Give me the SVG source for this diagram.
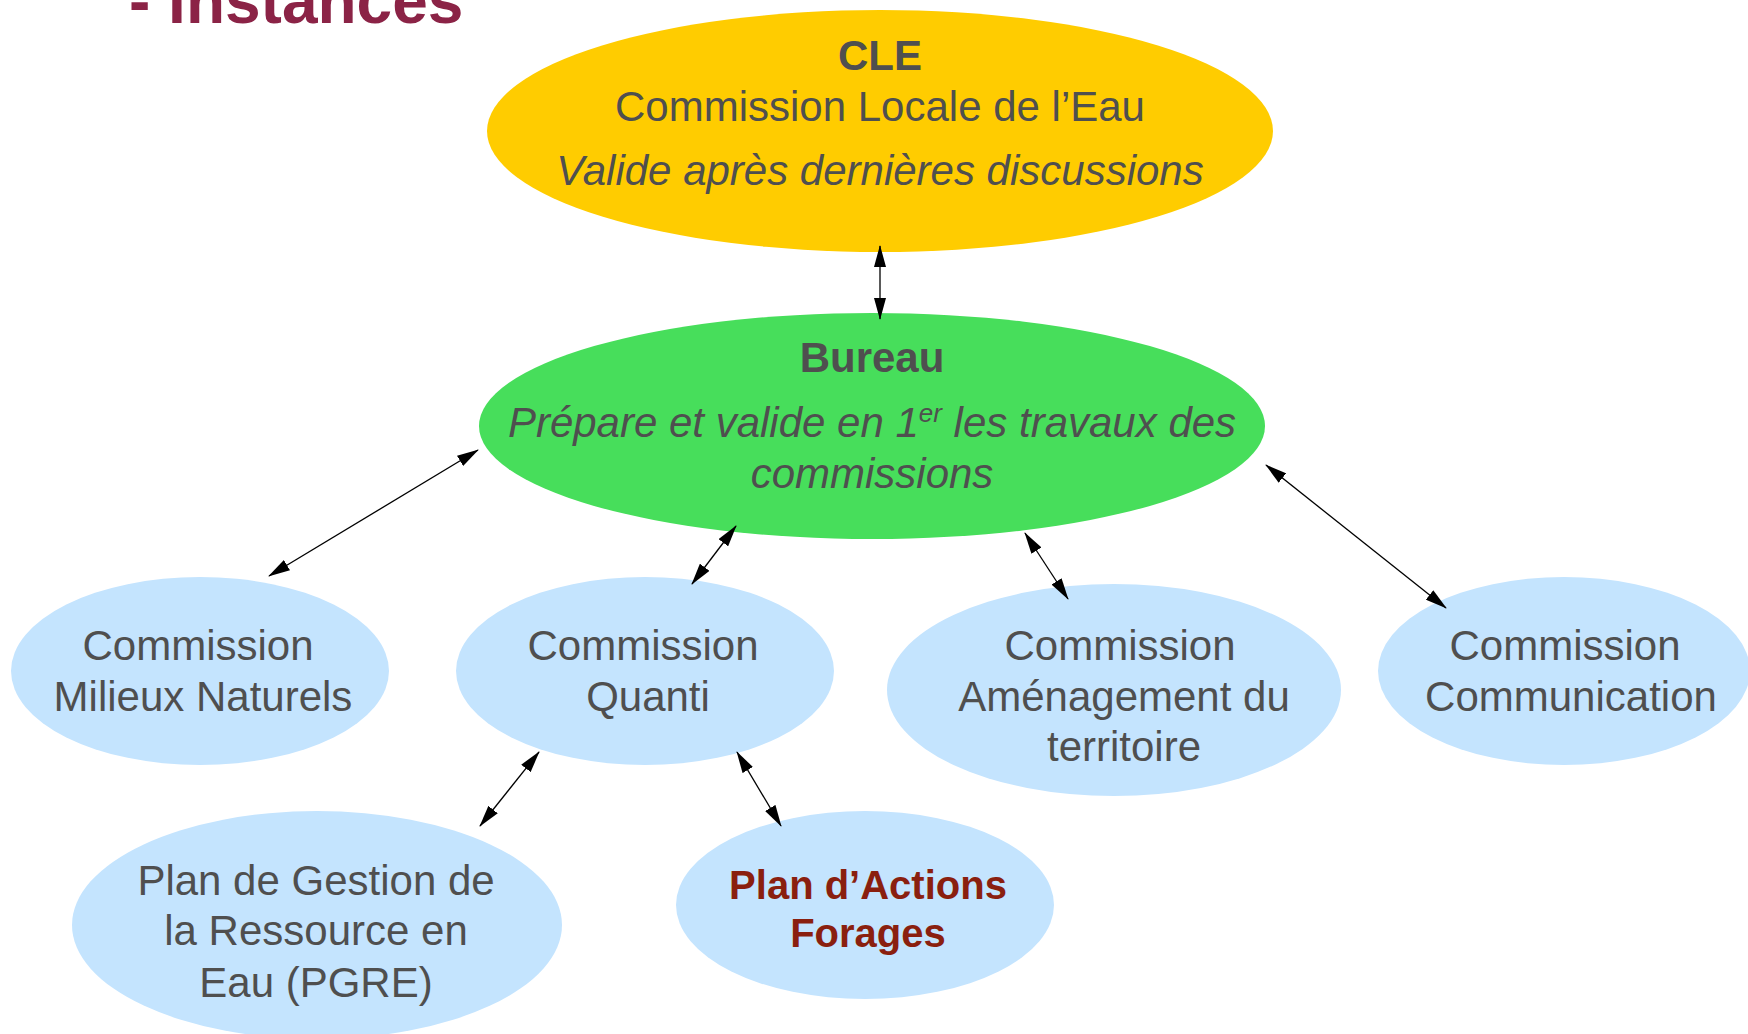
<svg xmlns="http://www.w3.org/2000/svg" width="1748" height="1034" viewBox="0 0 1748 1034">
<style>
text{font-family:"Liberation Sans",Arial,sans-serif;font-size:42px;fill:#4f4f4f;text-anchor:middle}
.b{font-weight:bold}
.i{font-style:italic}
.blue{fill:#c4e4fe}
.con line{stroke:#000;stroke-width:1.3;marker-start:url(#ah);marker-end:url(#ah)}
</style>
<defs>
<marker id="ah" markerUnits="userSpaceOnUse" markerWidth="22" markerHeight="12" refX="21" refY="6" orient="auto-start-reverse" viewBox="0 0 22 12">
<path d="M0,0 L22,6 L0,12 z" fill="#000"/>
</marker>
</defs>
<rect width="1748" height="1034" fill="#fff"/>
<text x="129" y="23" class="b" style="font-size:64px;fill:#8b2346;text-anchor:start">- Instances</text>

<g id="cle">
<ellipse cx="880" cy="131" rx="393" ry="121" fill="#ffcc00"/>
<text x="880" y="70" class="b">CLE</text>
<text x="880" y="121">Commission Locale de l’Eau</text>
<text x="880" y="185" class="i">Valide après dernières discussions</text>
</g>

<g id="bureau">
<ellipse cx="872" cy="426" rx="393" ry="113" fill="#47de5b"/>
<text x="872" y="372" class="b">Bureau</text>
<text x="872" y="437" class="i">Prépare et valide en 1<tspan font-size="26" dy="-15">er</tspan><tspan dy="15"> les travaux des</tspan></text>
<text x="872" y="488" class="i">commissions</text>
</g>

<g id="milieux">
<ellipse cx="200" cy="671" rx="189" ry="94" class="blue"/>
<text x="198" y="660">Commission</text>
<text x="203" y="711">Milieux Naturels</text>
</g>

<g id="quanti">
<ellipse cx="645" cy="671" rx="189" ry="94" class="blue"/>
<text x="643" y="660">Commission</text>
<text x="648" y="711">Quanti</text>
</g>

<g id="amenagement">
<ellipse cx="1114" cy="690" rx="227" ry="106" class="blue"/>
<text x="1120" y="660">Commission</text>
<text x="1124" y="711">Aménagement du</text>
<text x="1124" y="761">territoire</text>
</g>

<g id="communication">
<ellipse cx="1564" cy="671" rx="186" ry="94" class="blue"/>
<text x="1565" y="660">Commission</text>
<text x="1571" y="711">Communication</text>
</g>

<g id="pgre">
<ellipse cx="317" cy="925" rx="245" ry="114" class="blue"/>
<text x="316" y="895">Plan de Gestion de</text>
<text x="316" y="945">la Ressource en</text>
<text x="316" y="997">Eau (PGRE)</text>
</g>

<g id="forages">
<ellipse cx="865" cy="905" rx="189" ry="94" class="blue"/>
<text x="868" y="899" class="b" style="font-size:40px;fill:#8a1f0f">Plan d’Actions</text>
<text x="868" y="947" class="b" style="font-size:40px;fill:#8a1f0f">Forages</text>
</g>

<g id="connectors" class="con">
<line x1="880" y1="246" x2="880" y2="319"/>
<line x1="478" y1="450" x2="269" y2="576"/>
<line x1="736" y1="526" x2="692" y2="584"/>
<line x1="1025" y1="533" x2="1068" y2="599"/>
<line x1="1266" y1="465" x2="1446" y2="608"/>
<line x1="539" y1="752" x2="480" y2="826"/>
<line x1="737" y1="752" x2="781" y2="826"/>
</g>
</svg>
